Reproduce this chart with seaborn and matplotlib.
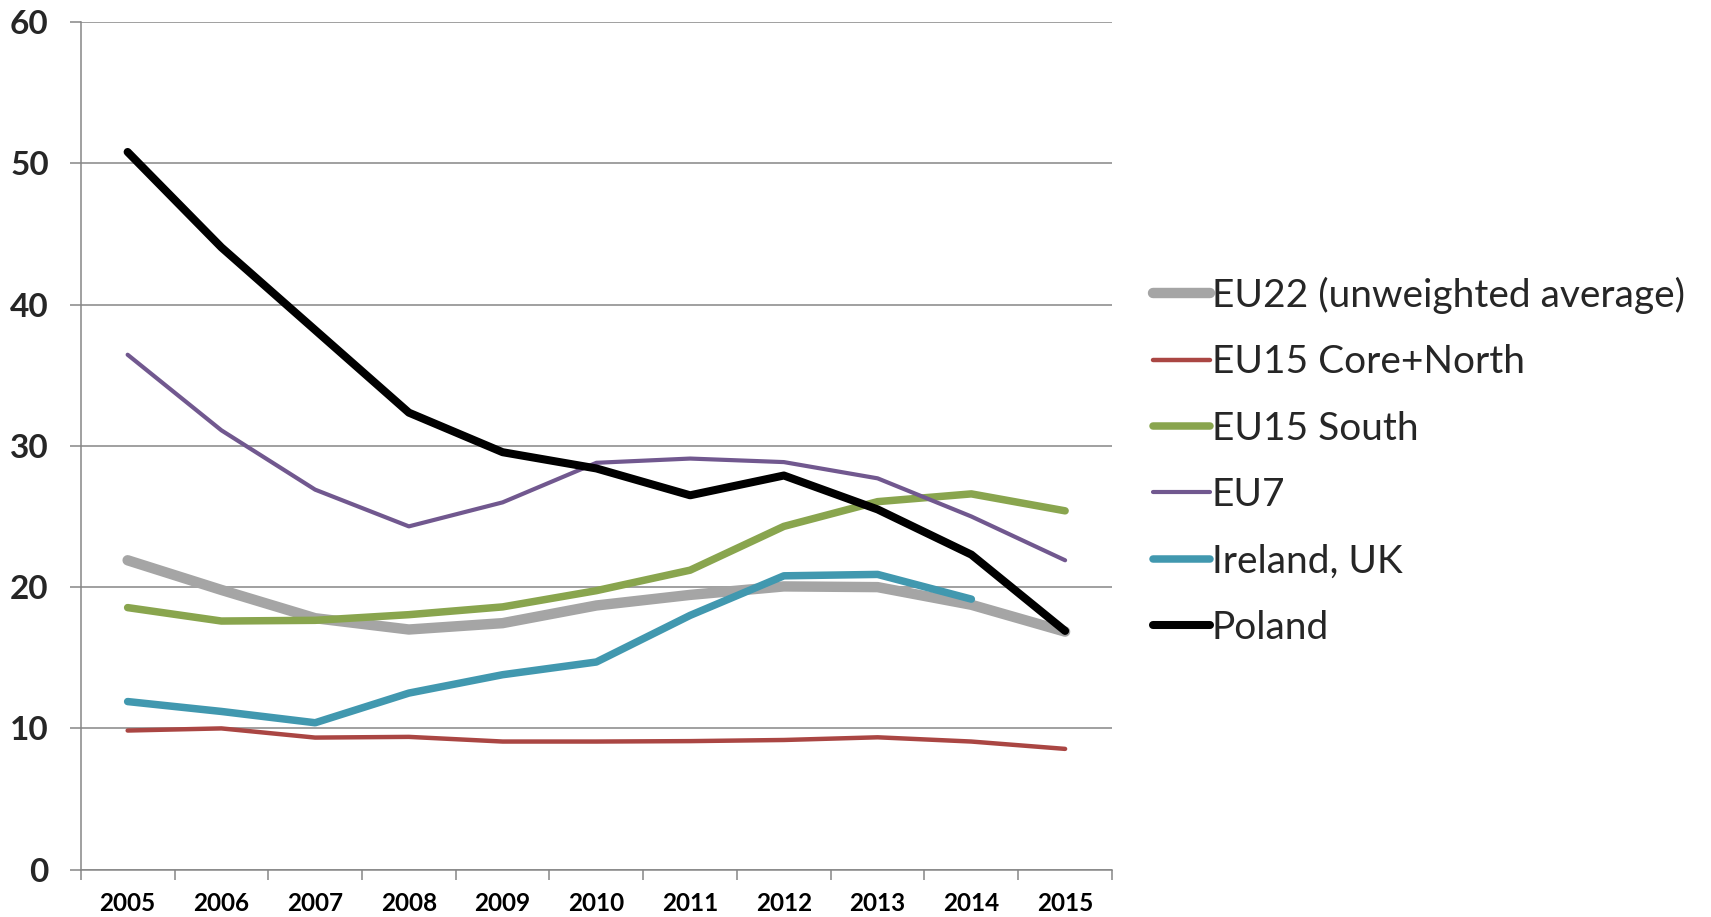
"""
Recreation of a multi-series line chart (2005-2015) with a legend on the right.
"""

import numpy as np
import pandas as pd
import matplotlib
matplotlib.use("Agg")
import matplotlib.pyplot as plt
from matplotlib.lines import Line2D
import seaborn as sns

# Data
years = [2005, 2006, 2007, 2008, 2009, 2010, 2011, 2012, 2013, 2014, 2015]

eu22 = [21.9, 19.8, 17.8, 17.0, 17.45, 18.7, 19.45, 20.05, 20.0, 18.75, 16.85]
eu15_core_north = [9.85, 10.0, 9.35, 9.4, 9.07, 9.07, 9.1, 9.18, 9.37, 9.07, 8.55]
eu15_south = [18.55, 17.6, 17.65, 18.05, 18.6, 19.75, 21.2, 24.3, 26.05, 26.6, 25.4]
eu7 = [36.45, 31.1, 26.9, 24.3, 26.0, 28.8, 29.1, 28.85, 27.7, 25.0, 21.9]
ireland_uk = [11.9, 11.2, 10.4, 12.5, 13.8, 14.7, 18.0, 20.8, 20.9, 19.15, np.nan]
poland = [50.8, 44.05, 38.2, 32.35, 29.55, 28.4, 26.5, 27.9, 25.5, 22.3, 16.9]

series_names = [
    "EU22 (unweighted average)",
    "EU15 Core+North",
    "EU15 South",
    "EU7",
    "Ireland, UK",
    "Poland",
]
series_values = [eu22, eu15_core_north, eu15_south, eu7, ireland_uk, poland]

# Styles
colors = ["#A5A5A5", "#AA4643", "#89A54E", "#71588F", "#4198AF", "#000000"]
widths = [7.5, 3.2, 5.4, 3.0, 5.4, 5.8]

# Long-form table
frames = []
for name, vals in zip(series_names, series_values):
    frames.append(pd.DataFrame({
        "pos": np.arange(len(years)),
        "value": vals,
        "series": name,
    }))
df = pd.concat(frames, ignore_index=True)

sns.set_theme(style="white")
plt.rcParams["font.family"] = ["Lato", "DejaVu Sans"]

fig = plt.figure(figsize=(17.11, 9.17), dpi=100)
ax = fig.add_axes([0.0472, 0.0516, 0.6027, 0.9244])

grid_color = "#868686"

for name, color, lw in zip(series_names, colors, widths):
    sns.lineplot(
        data=df[df["series"] == name].dropna(),
        x="pos",
        y="value",
        color=color,
        linewidth=lw,
        solid_capstyle="round",
        solid_joinstyle="round",
        legend=False,
        ax=ax,
    )

# Axes limits and ticks
ax.set_xlim(-0.5, len(years) - 0.5)
ax.set_ylim(0, 60)
ax.set_yticks(range(0, 61, 10))
ax.set_xticks(range(len(years)))
ax.set_xticklabels([str(y) for y in years])
ax.set_xticks(np.arange(-0.5, len(years), 1.0), minor=True)
ax.set_xlabel("")
ax.set_ylabel("")

ax.tick_params(axis="x", which="major", length=0, pad=16,
               labelsize=17.5, labelcolor="black")
ax.tick_params(axis="x", which="minor", length=7, width=1.1,
               color=grid_color, direction="out", bottom=True)
ax.tick_params(axis="y", length=8, width=1.1, color=grid_color,
               direction="out", left=True, pad=15, labelsize=24)
for lbl in ax.get_xticklabels() + ax.get_yticklabels():
    lbl.set_fontweight("bold")

# Grid and spines
ax.yaxis.grid(True, color=grid_color, linewidth=1.1)
ax.xaxis.grid(False)
ax.set_axisbelow(True)
for side in ["top", "right"]:
    ax.spines[side].set_visible(False)
for side in ["left", "bottom"]:
    ax.spines[side].set_color(grid_color)
    ax.spines[side].set_linewidth(1.1)

# Legend
handles = [
    Line2D([0], [0], color=c, linewidth=w, solid_capstyle="round")
    for c, w in zip(colors, widths)
]
fig.legend(
    handles,
    series_names,
    loc="center left",
    bbox_to_anchor=(0.674, 0.497),
    frameon=False,
    fontsize=28,
    handlelength=1.45,
    handletextpad=0.05,
    labelspacing=0.78,
    borderpad=0,
    borderaxespad=0,
)

fig.savefig("out.png", dpi=100)
plt.close(fig)
